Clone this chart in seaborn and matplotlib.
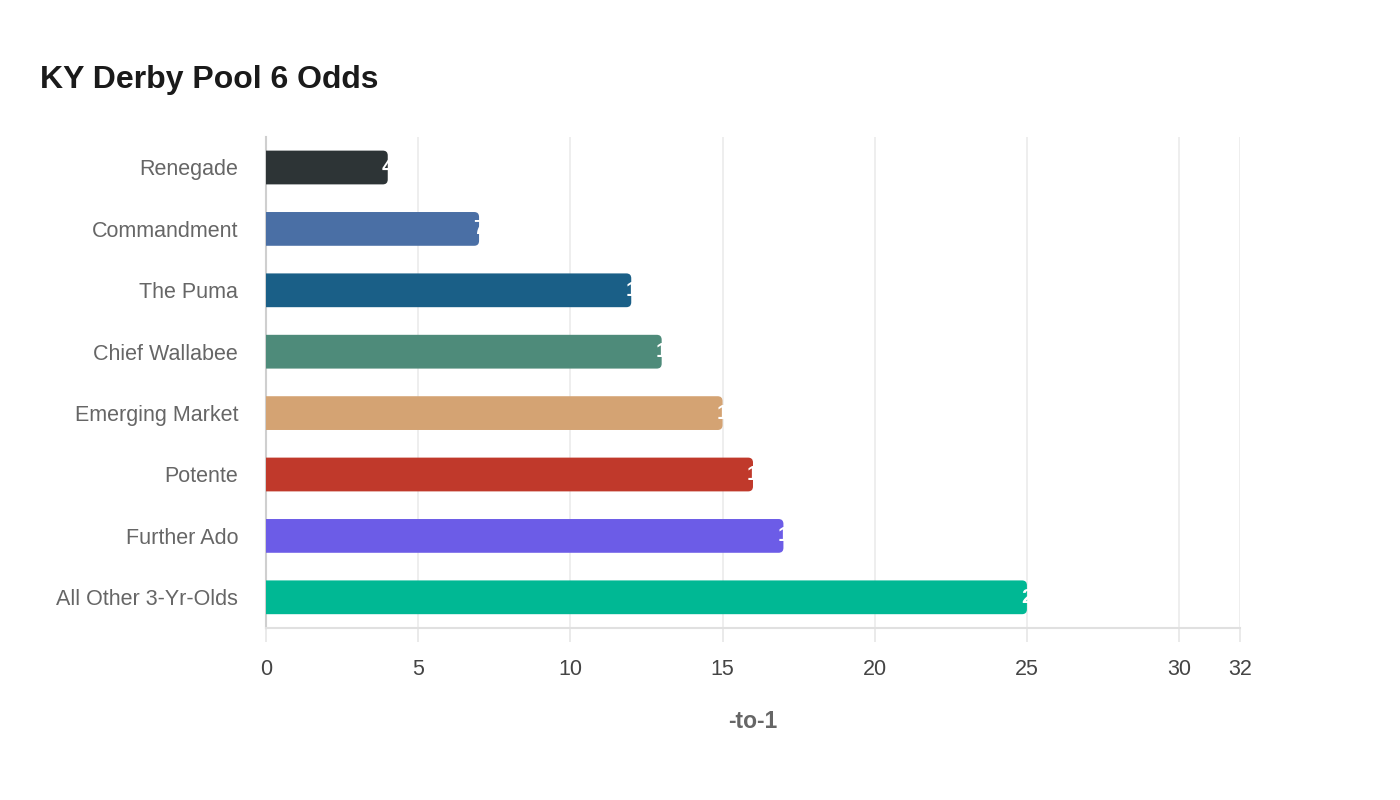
import pandas as pd
import matplotlib.pyplot as plt
import matplotlib.transforms as mtransforms
import seaborn as sns
from matplotlib.patches import FancyBboxPatch

# Data
horses = ['Renegade', 'Commandment', 'The Puma', 'Chief Wallabee',
          'Emerging Market', 'Potente', 'Further Ado', 'All Other 3-Yr-Olds']
odds = [4, 7, 12, 13, 15, 16, 17, 25]
colors = ['#2d3436', '#4a6fa5', '#1a5f87', '#4e8b7a',
          '#d4a373', '#c0392b', '#6c5ce7', '#00b894']
xticks = [0, 5, 10, 15, 20, 25, 30, 32]

df = pd.DataFrame({'Horse': horses, 'Odds': odds})

sns.set_style('white')
plt.rcParams['font.family'] = ['Liberation Sans', 'DejaVu Sans']

fig = plt.figure(figsize=(14, 8), dpi=100)
ax = fig.add_axes([0.19, 0.215, 0.6957, 0.614])

sns.barplot(data=df, x='Odds', y='Horse', hue='Horse', palette=colors,
            saturation=1, legend=False, width=0.55, ax=ax, zorder=3)

# rounded bar ends (left corners pushed behind the axis and clipped)
for p in list(ax.patches):
    x0, y0, w, h = p.get_x(), p.get_y(), p.get_width(), p.get_height()
    fc = p.get_facecolor()
    p.remove()
    rb = FancyBboxPatch((x0 - 0.3, y0), w + 0.3, h,
                        boxstyle='round,pad=0,rounding_size=0.16',
                        mutation_aspect=0.5, facecolor=fc, edgecolor='none',
                        zorder=3, clip_on=True)
    ax.add_patch(rb)

# value labels (white, starting at the bar end, so mostly hidden)
shift = mtransforms.ScaledTranslation(-6 / 100, 0, fig.dpi_scale_trans)
for i, v in enumerate(odds):
    ax.text(v, i, str(v), color='white', fontsize=15, fontweight='bold',
            ha='left', va='center', zorder=4,
            transform=ax.transData + shift)

ax.set_xlim(0, 32)
ax.set_ylim(7.5, -0.5)
ax.set_xticks(xticks)
ax.xaxis.grid(True, color='#ebebeb', linewidth=1.2, zorder=0)
ax.yaxis.grid(False)

for s in ['top', 'right']:
    ax.spines[s].set_visible(False)
ax.spines['left'].set_color('#cfcfcf')
ax.spines['left'].set_linewidth(1.5)
ax.spines['bottom'].set_color('#e0e0e0')
ax.spines['bottom'].set_linewidth(1.5)

ax.tick_params(axis='x', length=10, width=1.2, color='#e6e6e6', pad=12,
               labelsize=15.5, labelcolor='#444444', bottom=True)
ax.tick_params(axis='y', length=0, pad=20, labelsize=15.5, labelcolor='#666666')

ax.set_ylabel('')
ax.set_xlabel('-to-1', fontsize=16.5, fontweight='bold', color='#666666',
              labelpad=22)

fig.text(40 / 1400, 1 - 80 / 800, 'KY Derby Pool 6 Odds', fontsize=23,
         fontweight='bold', color='#1a1a1a', ha='left', va='center')

plt.savefig('out.png', dpi=100)
